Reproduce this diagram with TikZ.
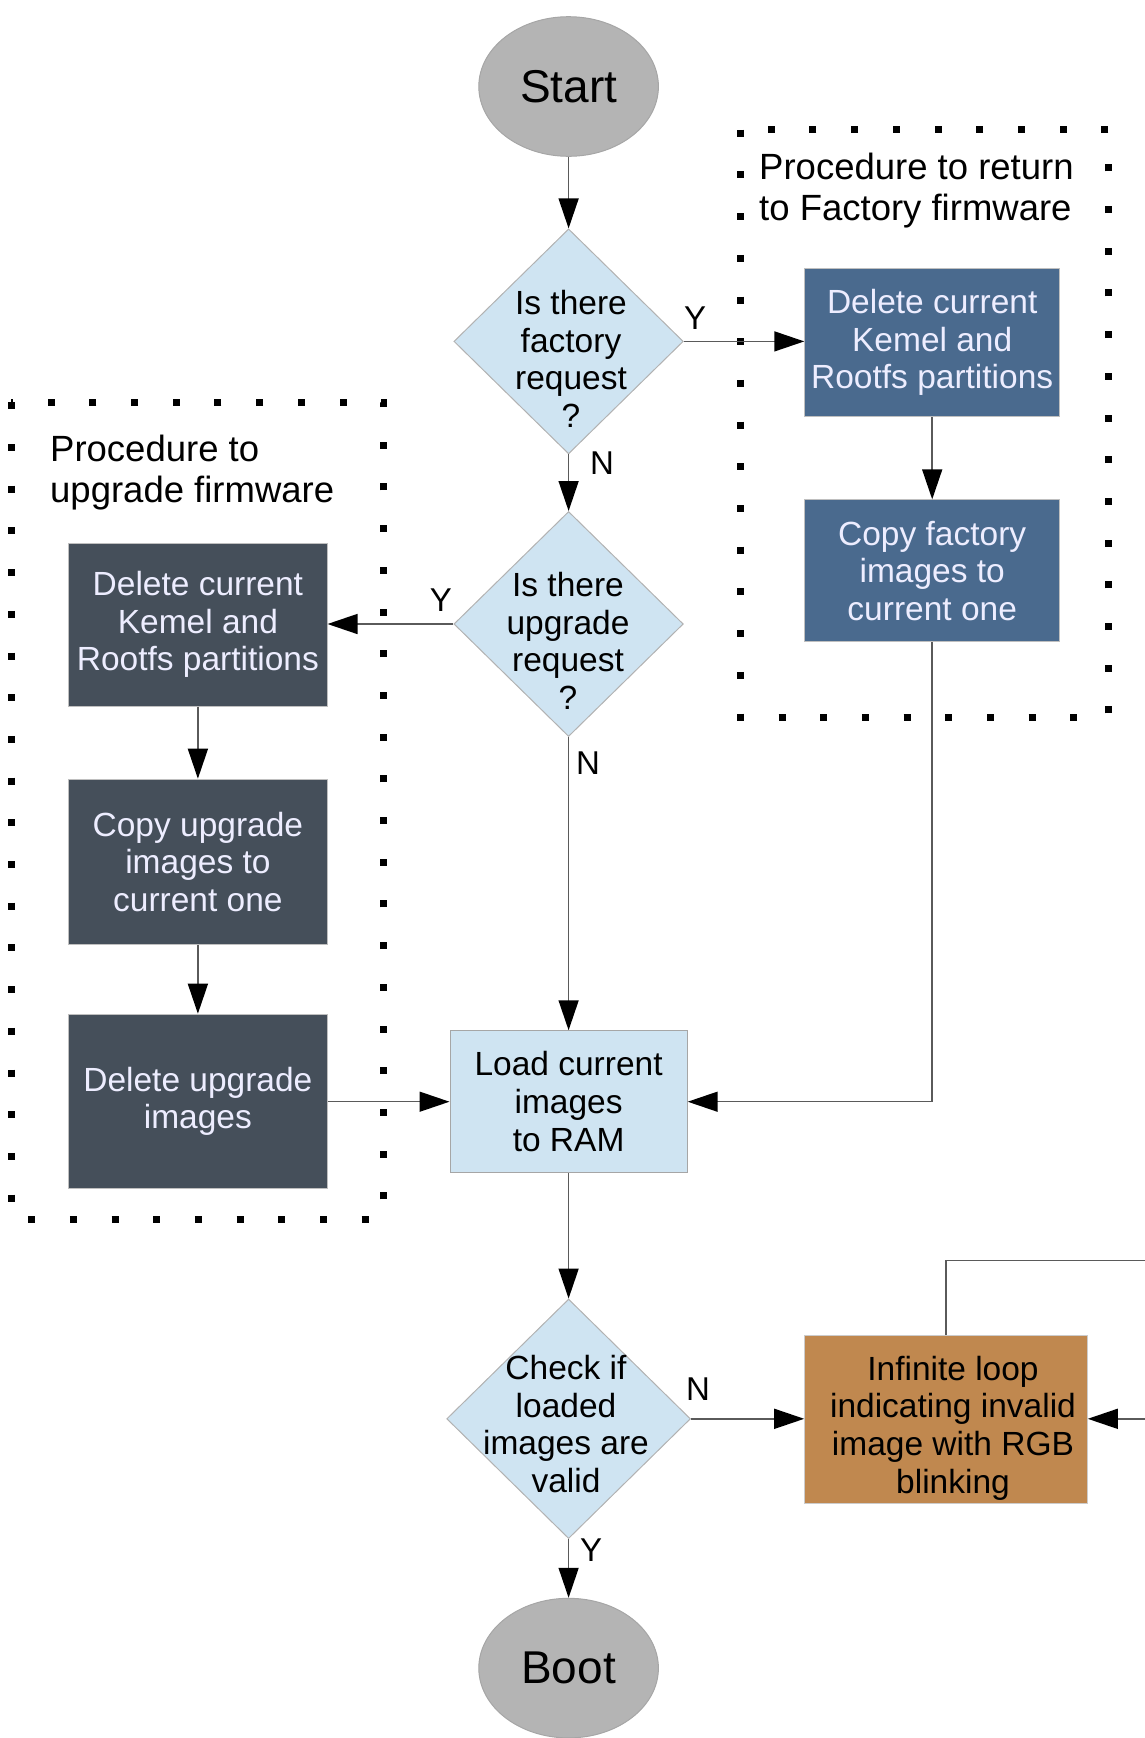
\documentclass[tikz,border=0pt]{standalone}
\usepackage{fontspec}
\setmainfont{Liberation Sans}
\usetikzlibrary{arrows.meta,shapes.geometric}

\definecolor{termgray}{HTML}{B4B4B4}
\definecolor{decblue}{HTML}{CFE4F2}
\definecolor{factoryblue}{HTML}{4A6A8E}
\definecolor{upgradeslate}{HTML}{454F5A}
\definecolor{errorbrown}{HTML}{C0884F}
\definecolor{wiregray}{HTML}{5A5A5A}

\begin{document}
\begin{tikzpicture}[x=1pt,y=-1pt,
  bodyfont/.style={font=\fontsize{33.5}{37.7}\selectfont},
  terminal/.style={ellipse, draw=black!35, fill=termgray, line width=1pt,
    minimum width=179.6pt, minimum height=139.6pt, inner sep=0pt,
    font=\fontsize{46}{50}\selectfont},
  decision/.style={diamond, draw=black!30, fill=decblue, line width=1pt,
    inner sep=0pt},
  dectext/.style={bodyfont, align=center, inner sep=0pt},
  procbox/.style={rectangle, draw=black!25, line width=1pt, inner sep=0pt,
    bodyfont, align=center},
  factorybox/.style={procbox, fill=factoryblue, text=white!93!blue},
  upgradebox/.style={procbox, fill=upgradeslate, text=white!93!blue},
  loadbox/.style={procbox, fill=decblue, draw=black!35},
  errorbox/.style={procbox, fill=errorbrown, draw=black!20, text=black},
  wire/.style={line width=1.5pt, draw=wiregray},
  flow/.style={wire, -{Triangle[length=30pt,width=20pt,color=black]}},
  branch/.style={font=\fontsize{33}{36}\selectfont, inner sep=0pt},
  title/.style={font=\fontsize{36.5}{41}\selectfont, align=left, inner sep=0pt},
  dotframe/.style={line width=7pt, dash pattern=on 7pt off 34.7pt, draw=black}
]
\useasboundingbox (0,0) rectangle (1145,1738);

% procedure frames
\draw[dotframe] (11,402.3) rectangle (383.5,1219.2);
\draw[dotframe] (740.4,129.7) rectangle (1108.4,717.1);
\node[title, anchor=west] (uptitle) at (50,473) {Procedure to\\upgrade firmware};
\node[title, anchor=west] (factitle) at (759,191) {Procedure to return\\to Factory firmware};

% terminals
\node[terminal] (start) at (568.6,86.5) {Start};
\node[terminal] (boot) at (568.6,1668.1) {Boot};

% decisions
\node[decision, minimum width=229.4pt, minimum height=225pt] (d1) at (568.6,341.4) {};
\node[dectext] (d1t) at (571,359) {Is there\\factory\\request\\?};
\node[decision, minimum width=229.4pt, minimum height=225pt] (d2) at (568.6,624) {};
\node[dectext] (d2t) at (568,641) {Is there\\upgrade\\request\\?};
\node[decision, minimum width=243.8pt, minimum height=239.5pt] (d3) at (568.6,1418.8) {};
\node[dectext] (d3t) at (566,1424) {Check if\\loaded\\images are\\valid};

% factory branch
\node[factorybox, minimum width=254.9pt, minimum height=148.5pt] (rb1) at (932.2,342.5)
  {Delete current\\Kemel and\\Rootfs partitions};
\node[factorybox, minimum width=254.9pt, minimum height=141.9pt] (rb2) at (932.2,570.8)
  {Copy factory\\images to\\current one};

% upgrade branch
\node[upgradebox, minimum width=258.3pt, minimum height=163pt] (lb1) at (197.9,624.6)
  {Delete current\\Kemel and\\Rootfs partitions};
\node[upgradebox, minimum width=258.3pt, minimum height=165.2pt] (lb2) at (197.9,861.8)
  {Copy upgrade\\images to\\current one};
\node[upgradebox, minimum width=258.3pt, minimum height=174pt] (lb3) at (197.9,1101.2)
  {Delete upgrade\\images};

% main line
\node[loadbox, minimum width=237.2pt, minimum height=141.9pt] (load) at (568.6,1101.7)
  {Load current\\images\\to RAM};
\node[errorbox, minimum width=282.6pt, minimum height=167.4pt] (inf) at (946,1419.3) {};
\node[dectext] (inft) at (953,1428) {Infinite loop\\indicating invalid\\image with RGB\\blinking};

% loop ends leaving the frame
\coordinate (loopout) at (1145,1260.3);
\coordinate (loopin) at (1145,1418.8);

% connectors
\draw[flow] (start.south) -- (d1.north);
\draw[flow] (d1.east) -- (d1.east -| rb1.west);
\draw[flow] (rb1.south) -- (rb2.north);
\draw[flow] (rb2.south) |- (load.east);
\draw[flow] (d1.south) -- (d2.north);
\draw[flow] (d2.west) -- (d2.west -| lb1.east);
\draw[flow] (lb1.south) -- (lb2.north);
\draw[flow] (lb2.south) -- (lb3.north);
\draw[flow] (lb3.east |- load.west) -- (load.west);
\draw[flow] (d2.south) -- (load.north);
\draw[flow] (load.south) -- (d3.north);
\draw[flow] (d3.east) -- (d3.east -| inf.west);
\draw[flow] (d3.south) -- (boot.north);
\draw[wire] (inf.north) |- (loopout);
\draw[flow] (loopin) -- (loopin -| inf.east);

% branch labels
\node[branch] (y1) at (695,318) {Y};
\node[branch] (n1) at (602,463) {N};
\node[branch] (y2) at (441,600) {Y};
\node[branch] (n2) at (588,763) {N};
\node[branch] (n3) at (698,1389) {N};
\node[branch] (y3) at (591,1550) {Y};
\end{tikzpicture}
\end{document}
